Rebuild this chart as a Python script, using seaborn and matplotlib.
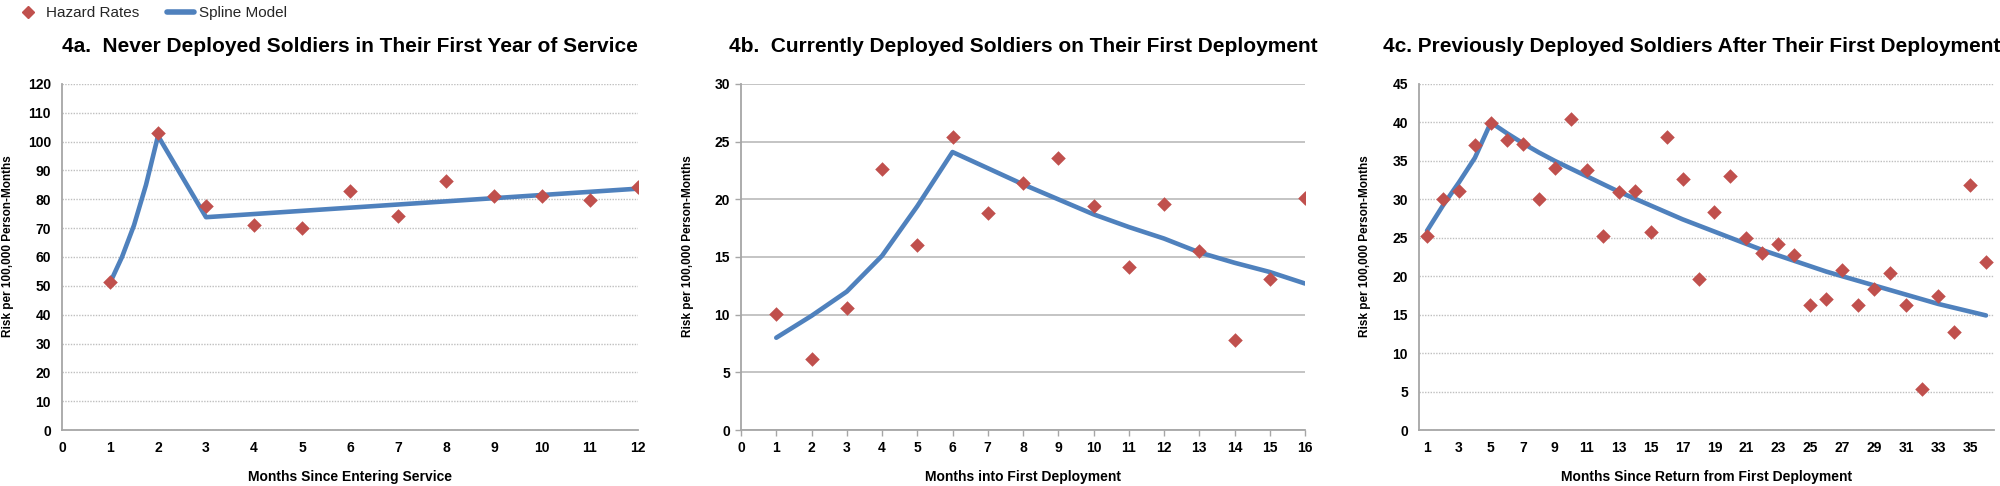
import numpy as np
import pandas as pd
import seaborn as sns
import matplotlib.pyplot as plt
from matplotlib.lines import Line2D

sns.set_theme(style="white")
plt.rcParams['font.family'] = ['Liberation Sans Narrow', 'Liberation Sans', 'DejaVu Sans']

red = '#C0504D'
blue = '#4F81BD'

# 4a. never deployed, first year of service
months_a = list(range(1, 13))
hazard_a = [51.3, 103, 77.7, 71.2, 70.2, 83, 74.1, 86.5, 81.1, 81.1, 79.6, 84.3]
spline_x_a = [1, 1.25, 1.5, 1.75, 2, 3, 12]
spline_a = [51, 60, 71, 85, 102, 73.8, 83.7]

# 4b. currently deployed, first deployment
months_b = list(range(1, 17))
hazard_b = [10.1, 6.15, 10.6, 22.6, 16.0, 25.4, 18.85, 21.4, 23.6, 19.4, 14.1, 19.6, 15.5, 7.8, 13.1, 20.1]
spline_b = [8.0, 9.9, 12.0, 15.1, 19.4, 24.1, 22.7, 21.3, 20.0, 18.7, 17.6, 16.6, 15.4, 14.5, 13.7, 12.7]

# 4c. previously deployed, after first deployment
months_c = list(range(1, 37))
hazard_c = [25.2, 30.1, 31.1, 37.1, 39.9, 37.65, 37.2, 30.0, 34.1, 40.4, 33.85, 25.2,
            31.0, 31.1, 25.7, 38.1, 32.6, 19.6, 28.3, 33.0, 25.0, 23.0, 24.15, 22.8,
            16.3, 17.0, 20.8, 16.3, 18.4, 20.4, 16.3, 5.3, 17.4, 12.7, 31.9, 21.9]
spline_c = [25.9, 29.2, 32.2, 35.4, 40.0, 38.6, 37.3, 36.1, 35.0, 34.0, 33.0, 32.0,
            31.0, 30.1, 29.2, 28.3, 27.4, 26.6, 25.8, 25.0, 24.2, 23.4, 22.7, 22.0,
            21.3, 20.6, 20.0, 19.4, 18.8, 18.2, 17.6, 17.0, 16.4, 15.9, 15.4, 14.9]

titles = ['4a.  Never Deployed Soldiers in Their First Year of Service',
          '4b.  Currently Deployed Soldiers on Their First Deployment',
          '4c. Previously Deployed Soldiers After Their First Deployment']
xlabels = ['Months Since Entering Service', 'Months into First Deployment',
           'Months Since Return from First Deployment']
ylabel = 'Risk per 100,000 Person-Months'

fig = plt.figure(figsize=(20, 4.86), dpi=100)
pos = [[0.031, 0.1152, 0.288, 0.712],
       [0.3705, 0.1152, 0.282, 0.712],
       [0.7095, 0.1152, 0.2875, 0.712]]
axes = [fig.add_axes(p) for p in pos]

panels = [
    (months_a, hazard_a, spline_x_a, spline_a),
    (months_b, hazard_b, months_b, spline_b),
    (months_c, hazard_c, months_c, spline_c),
]
title_x = [0.5, 0.5, 0.474]

for i, (ax, (mx, hz, sx, sp)) in enumerate(zip(axes, panels)):
    sns.lineplot(x=sx, y=sp, ax=ax, color=blue, linewidth=3.3, zorder=2,
                 solid_capstyle='round', sort=False)
    sns.scatterplot(x=mx, y=hz, ax=ax, color=red, marker='D', s=55,
                    edgecolor=red, linewidth=0, zorder=3)
    ax.set_title(titles[i], fontsize=15, fontweight='bold', pad=23, color='black',
                 x=title_x[i])
    ax.set_xlabel(xlabels[i], fontsize=10, fontweight='bold', labelpad=11, color='black')
    ax.set_ylabel(ylabel, fontsize=8.5, fontweight='bold', color='black',
                  family=['Liberation Sans', 'DejaVu Sans'])
    ax.yaxis.set_label_coords(-0.083, 0.53)
    for s in ['top', 'right']:
        ax.spines[s].set_visible(False)
    for s in ['left', 'bottom']:
        ax.spines[s].set_color('#A6A6A6')
        ax.spines[s].set_linewidth(1.3)
    ax.tick_params(labelsize=10, colors='black')

# axis ranges and grids
axes[0].set_xlim(0, 12)
axes[0].set_xticks(range(0, 13))
axes[0].set_ylim(0, 120)
axes[0].set_yticks(range(0, 121, 10))

axes[1].set_xlim(0, 16)
axes[1].set_xticks(range(0, 17))
axes[1].set_ylim(0, 30)
axes[1].set_yticks(range(0, 31, 5))

axes[2].set_xlim(0.5, 36.5)
axes[2].set_xticks(range(1, 36, 2))
axes[2].set_ylim(0, 45)
axes[2].set_yticks(range(0, 46, 5))

for ax in [axes[0], axes[2]]:
    ax.yaxis.grid(True, linestyle=(0, (1, 1)), color='#BFBFBF', linewidth=1.0)
    ax.tick_params(axis='both', length=0, pad=8)
axes[1].yaxis.grid(True, linestyle='-', color='#BFBFBF', linewidth=1.3)
axes[1].tick_params(axis='both', length=4, width=1, color='#A6A6A6', pad=4, direction='out')
axes[1].tick_params(axis='x', bottom=True)
axes[1].tick_params(axis='y', left=True)
for ax in axes:
    ax.set_axisbelow(True)
    for lab in ax.get_xticklabels() + ax.get_yticklabels():
        lab.set_fontweight('bold')

handles = [Line2D([], [], color=red, marker='D', linestyle='none', markersize=6),
           Line2D([], [], color=blue, linewidth=4)]
fig.legend(handles, ['Hazard Rates', 'Spline Model'], loc='upper left',
           bbox_to_anchor=(0.0, 1.015), ncol=2, frameon=False,
           handlelength=1.8, handletextpad=0.3, columnspacing=1.8,
           prop={'family': ['Liberation Sans', 'DejaVu Sans'], 'size': 11})

fig.savefig('out.png', dpi=100)
